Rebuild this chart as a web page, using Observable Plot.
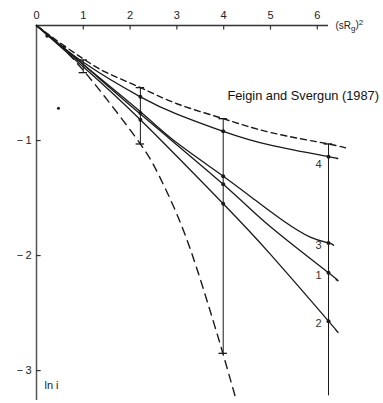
<!DOCTYPE html>
<html>
<head>
<meta charset="utf-8">
<script src="https://cdn.jsdelivr.net/npm/d3@7"></script>
<script src="https://cdn.jsdelivr.net/npm/@observablehq/plot@0.6"></script>
<style>
  html, body { margin: 0; padding: 0; background: #fff; }
  svg { font-family: "Liberation Sans", Arial, sans-serif; }
</style>
</head>
<body>
<div id="chart"></div>
<script>
// ---- data ----
const xTicks = [0, 1, 2, 3, 4, 5, 6];
const yTicks = [-1, -2, -3];

const upperDashX = [0, 0.5, 1, 1.5, 2.22, 3, 3.99, 5, 6.24, 6.65];
const upperDashY = [0, -0.15, -0.29, -0.41, -0.54, -0.68, -0.81, -0.93, -1.03, -1.07];

const lowerDashX = [0, 0.5, 1, 1.5, 2.22, 2.6, 3.0, 3.4, 3.8, 3.99, 4.25];
const lowerDashY = [0, -0.17, -0.39, -0.64, -1.03, -1.29, -1.64, -2.08, -2.6, -2.86, -3.23];

const curve4X = [0, 1, 2.22, 3, 3.99, 5, 6.24, 6.4];
const curve4Y = [0, -0.32, -0.62, -0.77, -0.92, -1.04, -1.14, -1.155];

const curve3X = [0, 1, 2.22, 3, 3.99, 4.68, 5.28, 5.85, 6.24, 6.35];
const curve3Y = [0, -0.34, -0.75, -1.02, -1.31, -1.52, -1.70, -1.84, -1.89, -1.91];

const curve1X = [0, 1, 2.22, 3.99, 5, 6.24, 6.4];
const curve1Y = [0, -0.34, -0.77, -1.38, -1.75, -2.15, -2.21];

const curve2X = [0, 1, 2.22, 3.99, 5, 6.24, 6.4];
const curve2Y = [0, -0.36, -0.82, -1.55, -1.99, -2.57, -2.65];

// error bars: x, top, bottom
const errX = [1, 2.22, 3.99, 6.24];
const errTop = [-0.30, -0.54, -0.81, -1.03];
const errBottom = [-0.41, -1.03, -2.85, -3.22];
const capTop = [true, true, true, true];
const capBottom = [true, true, true, false];

// marked points
const dotX = [0.23, 0.58, 2.22, 2.22, 2.22, 3.99, 3.99, 3.99, 3.99, 6.24, 6.24, 6.24, 6.24];
const dotY = [-0.09, -0.19, -0.62, -0.76, -0.82, -0.92, -1.31, -1.38, -1.55, -1.14, -1.89, -2.15, -2.57];

const curveLabels = ["4", "3", "1", "2"];
const curveLabelX = [6.03, 6.03, 6.03, 6.03];
const curveLabelY = [-1.21, -1.91, -2.17, -2.59];

const specX = [0.47];
const specY = [-0.72];

const annotation = "Feigin and Svergun (1987)";
const xLabel = "(sRg)²";
const yLabel = "ln i";

// ---- build tables ----
const toPts = (xs, ys) => xs.map((x, i) => ({x, y: ys[i]}));
const errs = errX.map((x, i) => ({x, top: errTop[i], bottom: errBottom[i], ct: capTop[i], cb: capBottom[i]}));
const caps = [];
errs.forEach(e => { if (e.ct) caps.push({x: e.x, y: e.top}); if (e.cb) caps.push({x: e.x, y: e.bottom}); });
const dots = toPts(dotX, dotY);
const labs = curveLabels.map((t, i) => ({t, x: curveLabelX[i], y: curveLabelY[i]}));
const capHalf = 0.09;   // half-width of error-bar caps in x units
const tickLenX = 0.04;  // x-axis tick length in y units
const tickLenY = 0.1;   // y-axis tick length in x units

const ink = "#1a1a1a";

const plot = Plot.plot({
  width: 383,
  height: 403,
  marginLeft: 36,
  marginRight: 55,
  marginTop: 25,
  marginBottom: 3,
  x: {type: "linear", domain: [0, 6.24], axis: null},
  y: {type: "linear", domain: [-3.26, 0], axis: null},
  marks: [
    // axes
    Plot.ruleY([0], {y: d => d, x1: () => 0, x2: () => 6.24, stroke: "#333", strokeWidth: 1.5}),
    Plot.ruleX([0], {x: d => d, y1: () => 0, y2: () => -3.26, stroke: "#555", strokeWidth: 1.5}),
    Plot.ruleX(xTicks.filter(d => d > 0), {x: d => d, y1: () => 0, y2: () => -tickLenX, stroke: "#333", strokeWidth: 1.2}),
    Plot.text(xTicks, {x: d => d, y: () => 0, dy: -10, text: d => String(d), fontSize: 11, fill: "#222"}),
    Plot.ruleY(yTicks, {y: d => d, x1: () => 0, x2: () => tickLenY, stroke: "#333", strokeWidth: 1.2}),
    Plot.text(yTicks, {x: () => 0, y: d => d, dx: -5, textAnchor: "end", text: d => "\u2212\u2009" + Math.abs(d), fontSize: 11, fill: "#222"}),
    Plot.text([xLabel], {x: () => 6.24, y: () => 0, dx: 7, textAnchor: "start", text: d => d, fontSize: 10, fill: "#222"}),
    Plot.text([yLabel], {x: () => 0, y: () => -3.13, dx: 8, dy: 0, textAnchor: "start", text: d => d, fontSize: 11, fill: "#222"}),
    // dashed curves
    Plot.line(toPts(upperDashX, upperDashY), {x: "x", y: "y", curve: "natural", stroke: ink, strokeWidth: 1.4, strokeDasharray: "6,4"}),
    Plot.line(toPts(lowerDashX, lowerDashY), {x: "x", y: "y", curve: "natural", stroke: ink, strokeWidth: 1.4, strokeDasharray: "8,6"}),
    // solid curves
    Plot.line(toPts(curve4X, curve4Y), {x: "x", y: "y", curve: "natural", stroke: ink, strokeWidth: 1.3}),
    Plot.line(toPts(curve3X, curve3Y), {x: "x", y: "y", curve: "natural", stroke: ink, strokeWidth: 1.3}),
    Plot.line(toPts(curve1X, curve1Y), {x: "x", y: "y", curve: "natural", stroke: ink, strokeWidth: 1.3}),
    Plot.line(toPts(curve2X, curve2Y), {x: "x", y: "y", curve: "natural", stroke: ink, strokeWidth: 1.3}),
    // error bars
    Plot.ruleX(errs, {x: "x", y1: "top", y2: "bottom", stroke: ink, strokeWidth: 1}),
    Plot.ruleY(caps, {y: "y", x1: d => d.x - capHalf, x2: d => d.x + capHalf, stroke: ink, strokeWidth: 1.3}),
    // points
    Plot.dot(dots, {x: "x", y: "y", r: 2, fill: ink}),
    Plot.dot(toPts(specX, specY), {x: "x", y: "y", r: 1.5, fill: ink}),
    // labels
    Plot.text(labs, {x: "x", y: "y", text: "t", fontSize: 11, fill: "#333"}),
    Plot.text([annotation], {x: () => 4.08, y: () => -0.61, text: d => d, textAnchor: "start", fontSize: 12.8, fill: "#111"})
  ]
});

document.getElementById("chart").appendChild(plot);

// subscript/superscript axis label
d3.select(plot).selectAll("text").filter(function () { return this.textContent === xLabel; })
  .each(function () {
    const t = d3.select(this);
    t.text(null);
    t.append("tspan").text("(sR");
    t.append("tspan").attr("dy", "0.3em").attr("font-size", "8").text("g");
    t.append("tspan").attr("dy", "-0.3em").text(")");
    t.append("tspan").attr("dy", "-0.45em").attr("font-size", "8").text("2");
  });
</script>
</body>
</html>
